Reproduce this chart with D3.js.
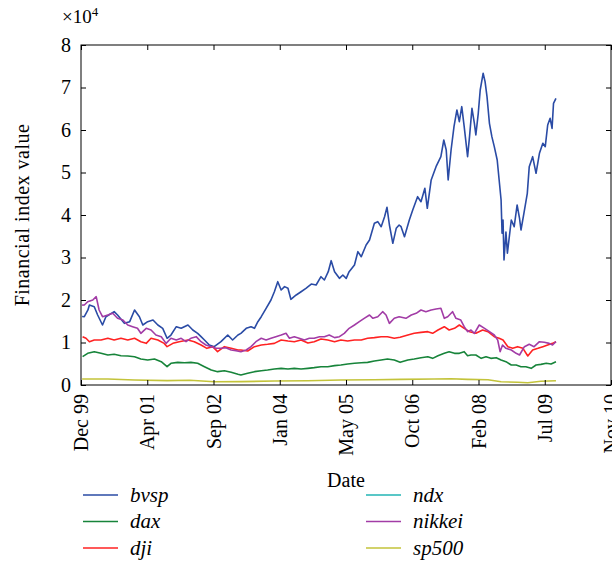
<!DOCTYPE html>
<html>
<head>
<meta charset="utf-8">
<script src="https://cdn.jsdelivr.net/npm/d3@7"></script>
<style>
  body { margin: 0; background: #fff; }
  svg { display: block; }
  text { font-family: "Liberation Serif", "Times New Roman", serif; fill: #000; }
</style>
</head>
<body>
<svg id="chart" width="612" height="562"></svg>
<script>
// Each series: [decimal year, index value]
const bvsp = [
  [1999.94,16100],[1999.985,16070],[2000.06,17650],[2000.09,18800],[2000.19,18420],[2000.26,16470],
  [2000.36,14120],[2000.43,16070],[2000.60,17250],[2000.67,16470],[2000.81,14510],[2000.92,14900],
  [2001.02,17650],[2001.12,16070],[2001.19,14120],[2001.29,14900],[2001.40,15290],[2001.50,14120],
  [2001.60,13340],[2001.69,10990],[2001.77,11760],[2001.88,13720],[2001.98,13340],[2002.12,14120],
  [2002.22,12940],[2002.32,12160],[2002.39,11370],[2002.46,10590],[2002.56,9410],[2002.66,9020],
  [2002.80,10190],[2002.94,11760],[2003.04,10590],[2003.15,11760],[2003.21,12160],[2003.32,13340],
  [2003.42,13720],[2003.49,13340],[2003.56,14900],[2003.63,16070],[2003.73,18050],[2003.83,20000],
  [2003.90,21950],[2003.97,24310],[2004.04,22350],[2004.11,23140],[2004.18,22750],[2004.24,20160],
  [2004.35,21180],[2004.45,21950],[2004.55,22750],[2004.66,23760],[2004.76,23530],[2004.86,25480],
  [2004.93,24700],[2005.01,26660],[2005.07,29250],[2005.14,26660],[2005.24,25100],[2005.31,25880],
  [2005.38,25100],[2005.44,26660],[2005.55,28240],[2005.62,31370],[2005.69,30190],[2005.79,32940],
  [2005.86,34120],[2005.96,38040],[2006.03,38430],[2006.10,37250],[2006.17,39600],[2006.22,41810],
  [2006.27,37650],[2006.34,33340],[2006.41,36870],[2006.47,37650],[2006.51,37250],[2006.58,34900],
  [2006.68,38820],[2006.75,41180],[2006.85,44310],[2006.92,43130],[2007.00,46280],[2007.05,41580],
  [2007.13,48240],[2007.23,51370],[2007.33,53720],[2007.39,57650],[2007.44,55300],[2007.48,48240],
  [2007.54,55300],[2007.60,60780],[2007.66,64710],[2007.71,61950],[2007.76,65490],[2007.81,60780],
  [2007.88,53720],[2007.92,58430],[2007.97,65100],[2008.02,61570],[2008.05,58820],[2008.10,63930],
  [2008.14,69410],[2008.20,73340],[2008.24,71370],[2008.28,67840],[2008.33,61570],[2008.38,58430],
  [2008.43,56080],[2008.49,52940],[2008.53,48240],[2008.57,43530],[2008.59,35690],[2008.61,38820],
  [2008.63,29410],[2008.67,36000],[2008.70,31000],[2008.78,38820],[2008.84,37250],[2008.90,42350],
  [2008.95,39220],[2008.98,36470],[2009.04,40400],[2009.11,45100],[2009.15,51370],[2009.22,53720],
  [2009.29,49810],[2009.36,54510],[2009.43,56870],[2009.48,56080],[2009.53,61180],[2009.58,62750],
  [2009.62,60390],[2009.65,66280],[2009.70,67450]
];

const dax = [
  [1999.95,6660],[2000.055,7450],[2000.19,7840],[2000.33,7450],[2000.47,7060],[2000.60,7220],
  [2000.74,6900],[2000.88,6820],[2001.02,6660],[2001.15,6120],[2001.29,5880],[2001.43,6120],
  [2001.57,5490],[2001.69,4310],[2001.77,5100],[2001.91,5330],[2002.05,5250],[2002.18,5330],
  [2002.32,5100],[2002.46,4310],[2002.60,3530],[2002.73,3140],[2002.87,3370],[2003.01,2980],
  [2003.15,2510],[2003.21,2350],[2003.35,2750],[2003.49,3140],[2003.63,3370],[2003.76,3530],
  [2003.90,3760],[2004.04,3920],[2004.18,3760],[2004.31,3920],[2004.45,3760],[2004.59,3920],
  [2004.72,4080],[2004.86,4310],[2005.00,4310],[2005.14,4550],[2005.27,4710],[2005.41,4940],
  [2005.55,5100],[2005.69,5250],[2005.82,5330],[2005.96,5650],[2006.10,5880],[2006.23,6120],
  [2006.37,5880],[2006.49,5330],[2006.65,5880],[2006.78,6120],[2006.92,6430],[2007.06,6660],
  [2007.16,6270],[2007.27,6900],[2007.40,7450],[2007.50,7840],[2007.61,7450],[2007.71,7450],
  [2007.81,7840],[2007.88,6900],[2007.95,7060],[2008.05,7060],[2008.16,6270],[2008.26,6660],
  [2008.36,6270],[2008.47,6430],[2008.57,5880],[2008.67,5490],[2008.78,4710],[2008.88,4710],
  [2008.98,4310],[2009.08,4310],[2009.19,3920],[2009.29,4710],[2009.39,4860],[2009.50,5100],
  [2009.60,4940],[2009.70,5490]
];

const dji = [
  [1999.95,11370],[2000.02,10990],[2000.09,10190],[2000.19,10590],[2000.33,10590],[2000.47,10990],
  [2000.60,10590],[2000.74,10990],[2000.88,10590],[2001.02,10990],[2001.15,10190],[2001.26,9800],
  [2001.36,10990],[2001.50,10590],[2001.63,9800],[2001.69,9020],[2001.81,9800],[2001.94,10190],
  [2002.12,10590],[2002.25,10190],[2002.39,9410],[2002.51,8630],[2002.63,9020],[2002.73,7840],
  [2002.87,9020],[2003.01,8630],[2003.15,8240],[2003.21,8240],[2003.35,8000],[2003.49,9020],
  [2003.63,9410],[2003.76,9570],[2003.90,9800],[2004.04,10590],[2004.18,10350],[2004.31,10190],
  [2004.45,10590],[2004.59,9900],[2004.72,10190],[2004.86,10830],[2005.00,10590],[2005.14,10190],
  [2005.27,10590],[2005.41,10350],[2005.55,10590],[2005.69,10590],[2005.82,10990],[2005.96,11140],
  [2006.10,11370],[2006.23,11370],[2006.37,10990],[2006.49,11220],[2006.65,11760],[2006.78,12160],
  [2006.92,12390],[2007.06,12550],[2007.16,12160],[2007.27,12940],[2007.40,13720],[2007.50,12940],
  [2007.61,13340],[2007.71,14120],[2007.81,13340],[2007.92,12550],[2008.05,12160],[2008.19,12940],
  [2008.30,12550],[2008.43,11370],[2008.53,11000],[2008.61,10600],[2008.71,9020],[2008.81,8630],
  [2008.91,9020],[2009.02,8630],[2009.12,6820],[2009.22,8240],[2009.33,8630],[2009.43,9020],
  [2009.53,9410],[2009.63,9800],[2009.70,10190]
];

// No ndx observations fall inside the plotted range
const ndx = [];

const nikkei = [
  [1999.94,18800],[1999.985,18820],[2000.055,19600],[2000.16,20000],[2000.23,20780],[2000.29,17650],
  [2000.36,16070],[2000.47,16470],[2000.57,16870],[2000.67,15690],[2000.78,15290],[2000.88,14120],
  [2000.98,13720],[2001.08,13340],[2001.15,12160],[2001.26,13340],[2001.36,12940],[2001.46,11760],
  [2001.57,11370],[2001.67,9800],[2001.77,10990],[2001.88,10590],[2001.98,10990],[2002.08,10190],
  [2002.18,10990],[2002.29,11370],[2002.39,10190],[2002.49,9410],[2002.60,9020],[2002.70,8630],
  [2002.80,8630],[2002.90,8780],[2003.01,8240],[2003.11,8080],[2003.21,7840],[2003.32,8240],
  [2003.42,9020],[2003.52,10190],[2003.63,10990],[2003.73,10590],[2003.83,10990],[2003.93,11370],
  [2004.04,11760],[2004.14,12160],[2004.21,10990],[2004.31,11370],[2004.41,10990],[2004.52,10590],
  [2004.62,10990],[2004.72,10990],[2004.83,11370],[2004.93,11370],[2005.03,11760],[2005.14,11140],
  [2005.24,11370],[2005.34,12160],[2005.44,13340],[2005.55,14120],[2005.65,14900],[2005.75,15690],
  [2005.86,16470],[2005.93,15690],[2006.03,16070],[2006.13,17250],[2006.20,16470],[2006.27,14510],
  [2006.37,15690],[2006.47,16070],[2006.61,15690],[2006.72,16470],[2006.82,16870],[2006.92,17650],
  [2007.02,17250],[2007.13,17650],[2007.23,17880],[2007.33,18050],[2007.40,15690],[2007.47,16070],
  [2007.57,17250],[2007.64,15690],[2007.74,15290],[2007.81,13720],[2007.88,12550],[2007.95,12940],
  [2008.02,12160],[2008.12,14120],[2008.23,13340],[2008.33,12550],[2008.43,11760],[2008.50,10590],
  [2008.55,7840],[2008.60,9410],[2008.67,8630],[2008.78,8240],[2008.88,7450],[2008.95,7060],
  [2009.05,9020],[2009.15,9570],[2009.25,9020],[2009.36,10190],[2009.46,10040],[2009.56,9800],
  [2009.63,9410],[2009.70,10190]
];

const sp500 = [
  [1999.94,1410],[2000.47,1400],[2001.02,1180],[2001.69,1020],[2002.16,1100],[2002.66,780],
  [2003.21,800],[2003.90,940],[2004.59,1010],[2005.27,1180],[2005.96,1250],[2006.51,1330],
  [2007.19,1410],[2007.54,1480],[2007.88,1330],[2008.30,1250],[2008.57,780],[2008.91,630],
  [2009.12,540],[2009.39,870],[2009.70,1010]
];

const seriesNames  = ["bvsp", "dax", "dji", "ndx", "nikkei", "sp500"];
const seriesColors = ["#2a4ba5", "#17843a", "#ff2222", "#22b5b5", "#a23ca6", "#c3c33a"];
const seriesData   = [bvsp, dax, dji, ndx, nikkei, sp500];

const xTickLabels = ["Dec 99", "Apr 01", "Sep 02", "Jan 04", "May 05", "Oct 06", "Feb 08", "Jul 09", "Nov 10"];
const yTicks = [0, 10000, 20000, 30000, 40000, 50000, 60000, 70000, 80000];
const xDomain = [1999.917, 2010.834];
const yDomain = [0, 80000];

const svg = d3.select("#chart");
const m = { left: 81, right: 611, top: 45, bottom: 385 };

const x = d3.scaleLinear().domain(xDomain).range([m.left, m.right]);
const y = d3.scaleLinear().domain(yDomain).range([m.bottom, m.top]);

const step = (xDomain[1] - xDomain[0]) / (xTickLabels.length - 1);
const xTickValues = xTickLabels.map((_, i) => xDomain[0] + i * step);

// Series lines
const line = d3.line().x(d => x(d[0])).y(d => y(d[1]));
svg.append("g").selectAll("path")
  .data(seriesData)
  .join("path")
  .attr("fill", "none")
  .attr("stroke", (_, i) => seriesColors[i])
  .attr("stroke-width", 1.6)
  .attr("stroke-linejoin", "round")
  .attr("d", d => d.length ? line(d) : null);

// Axes with inward ticks on all four sides
const fs = 20;
const bottom = svg.append("g").attr("transform", `translate(0,${m.bottom})`)
  .call(d3.axisBottom(x).tickValues(xTickValues).tickFormat((_, i) => xTickLabels[i])
    .tickSizeInner(-5).tickSizeOuter(0).tickPadding(7));
bottom.selectAll("text")
  .attr("transform", "rotate(-90)")
  .attr("text-anchor", "end")
  .attr("x", -9).attr("y", 0).attr("dy", "0.33em")
  .style("font-size", fs + "px");

svg.append("g").attr("transform", `translate(0,${m.top})`)
  .call(d3.axisTop(x).tickValues(xTickValues).tickFormat("").tickSizeInner(-5).tickSizeOuter(0));

const left = svg.append("g").attr("transform", `translate(${m.left},0)`)
  .call(d3.axisLeft(y).tickValues(yTicks).tickFormat(v => v / 10000)
    .tickSizeInner(-5).tickSizeOuter(0).tickPadding(10));
left.selectAll("text").style("font-size", fs + "px");

svg.append("g").attr("transform", `translate(${m.right},0)`)
  .call(d3.axisRight(y).tickValues(yTicks).tickFormat("").tickSizeInner(-5).tickSizeOuter(0));

svg.selectAll(".domain").remove();
svg.selectAll(".tick line").attr("stroke", "#000").attr("stroke-width", 1);

svg.append("rect")
  .attr("x", m.left).attr("y", m.top)
  .attr("width", m.right - m.left).attr("height", m.bottom - m.top)
  .attr("fill", "none").attr("stroke", "#000").attr("stroke-width", 1);

// Exponent note
const exp = svg.append("text").attr("x", 62).attr("y", 23).style("font-size", "19px");
exp.append("tspan").text("×10");
exp.append("tspan").attr("dy", -7).style("font-size", "13px").text("4");

// Axis titles
svg.append("text")
  .attr("x", (m.left + m.right) / 2).attr("y", 487)
  .attr("text-anchor", "middle").style("font-size", fs + "px")
  .text("Date");

svg.append("text")
  .attr("transform", `translate(29,${(m.top + m.bottom) / 2}) rotate(-90)`)
  .attr("text-anchor", "middle").style("font-size", fs + "px")
  .style("letter-spacing", "0.5px")
  .text("Financial index value");

// Legend in two columns
const legend = svg.append("g");
seriesNames.forEach((name, i) => {
  const col = Math.floor(i / 3), row = i % 3;
  const lx = col === 0 ? 83 : 366;
  const ly = 495 + row * 26.5;
  legend.append("line")
    .attr("x1", lx).attr("x2", lx + 35).attr("y1", ly).attr("y2", ly)
    .attr("stroke", seriesColors[i]).attr("stroke-width", 1.3);
  legend.append("text")
    .attr("x", lx + 47).attr("y", ly).attr("dy", "0.33em")
    .style("font-size", "21px").style("font-style", "italic")
    .text(name);
});
</script>
</body>
</html>
